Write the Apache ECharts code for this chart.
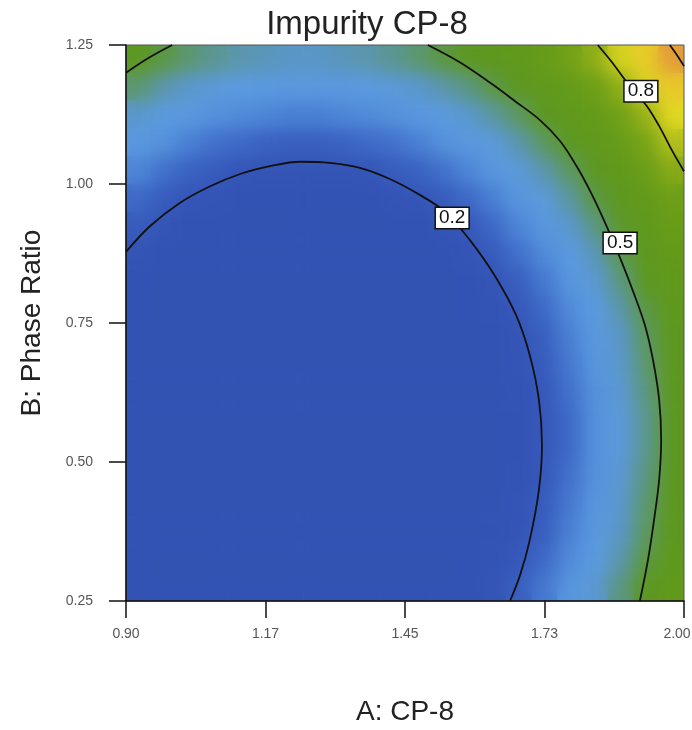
<!DOCTYPE html>
<html>
<head>
<meta charset="utf-8">
<title>Impurity CP-8</title>
<script src="https://cdn.jsdelivr.net/npm/echarts@6/dist/echarts.min.js"></script>
<style>
  html, body { margin: 0; padding: 0; background: #fff; }
  #wrap { position: relative; width: 692px; height: 730px; }
  #heat { position: absolute; left: 126px; top: 45px; width: 558px; height: 556px; overflow: hidden; }
  #heatBase, #heatSoft { position: absolute; left: 0; top: 0; width: 558px; height: 556px; }
  #heatSoft { filter: blur(9px); }
  #main { position: absolute; left: 0; top: 0; width: 692px; height: 730px; }
</style>
</head>
<body>
<div id="wrap">
  <div id="heat">
    <div id="heatBase"></div>
    <div id="heatSoft"></div>
  </div>
  <div id="main"></div>
</div>
<script>
// cell centres of the response grid (A: CP-8, B: Phase Ratio)
var aCenters = [0.925, 0.975, 1.025, 1.075, 1.125, 1.175, 1.225, 1.275, 1.325, 1.375, 1.425,
                1.475, 1.525, 1.575, 1.625, 1.675, 1.725, 1.775, 1.825, 1.875, 1.925, 1.975];
var bCenters = [0.275, 0.325, 0.375, 0.425, 0.475, 0.525, 0.575, 0.625, 0.675, 0.725,
                0.775, 0.825, 0.875, 0.925, 0.975, 1.025, 1.075, 1.125, 1.175, 1.225];

// impurity level, one row per B value (bottom to top)
var impurityRows = [
  [0.16,0.13,0.11,0.09,0.08,0.07,0.07,0.07,0.07,0.08,0.09,0.11,0.13,0.16,0.19,0.23,0.27,0.32,0.38,0.45,0.52,0.60],
  [0.14,0.11,0.09,0.07,0.06,0.05,0.05,0.05,0.05,0.06,0.07,0.09,0.11,0.14,0.17,0.21,0.25,0.30,0.36,0.42,0.49,0.58],
  [0.12,0.10,0.07,0.06,0.04,0.04,0.03,0.03,0.03,0.04,0.06,0.07,0.09,0.12,0.15,0.19,0.23,0.28,0.34,0.40,0.47,0.55],
  [0.11,0.08,0.06,0.04,0.03,0.02,0.02,0.02,0.02,0.03,0.04,0.06,0.08,0.11,0.14,0.18,0.22,0.27,0.32,0.39,0.46,0.54],
  [0.10,0.08,0.05,0.04,0.03,0.02,0.01,0.01,0.02,0.02,0.04,0.05,0.07,0.10,0.13,0.17,0.21,0.26,0.31,0.38,0.45,0.53],
  [0.10,0.07,0.05,0.03,0.02,0.01,0.01,0.01,0.01,0.02,0.03,0.05,0.07,0.10,0.13,0.16,0.21,0.25,0.31,0.37,0.44,0.52],
  [0.10,0.07,0.05,0.03,0.02,0.01,0.01,0.01,0.01,0.02,0.03,0.05,0.07,0.10,0.13,0.16,0.21,0.25,0.31,0.37,0.44,0.52],
  [0.10,0.08,0.05,0.04,0.03,0.02,0.01,0.01,0.02,0.02,0.04,0.05,0.07,0.10,0.13,0.17,0.21,0.26,0.31,0.38,0.45,0.53],
  [0.11,0.08,0.06,0.04,0.03,0.02,0.02,0.02,0.02,0.03,0.04,0.06,0.08,0.11,0.14,0.18,0.22,0.27,0.32,0.39,0.46,0.54],
  [0.12,0.10,0.07,0.06,0.04,0.04,0.03,0.03,0.03,0.04,0.06,0.07,0.09,0.12,0.15,0.19,0.23,0.28,0.34,0.40,0.47,0.55],
  [0.14,0.11,0.09,0.07,0.06,0.05,0.05,0.05,0.05,0.06,0.07,0.09,0.11,0.14,0.17,0.21,0.25,0.30,0.36,0.42,0.49,0.58],
  [0.16,0.13,0.11,0.09,0.08,0.07,0.07,0.07,0.07,0.08,0.09,0.11,0.13,0.16,0.19,0.23,0.27,0.32,0.38,0.45,0.52,0.60],
  [0.19,0.16,0.13,0.12,0.10,0.09,0.09,0.09,0.09,0.10,0.12,0.13,0.16,0.18,0.22,0.26,0.30,0.35,0.41,0.48,0.55,0.64],
  [0.22,0.19,0.16,0.15,0.13,0.12,0.12,0.12,0.12,0.13,0.14,0.16,0.19,0.21,0.25,0.29,0.33,0.39,0.45,0.51,0.59,0.68],
  [0.25,0.22,0.20,0.18,0.16,0.16,0.15,0.15,0.16,0.16,0.18,0.20,0.22,0.25,0.28,0.32,0.37,0.43,0.49,0.56,0.64,0.72],
  [0.29,0.26,0.24,0.22,0.20,0.19,0.19,0.19,0.19,0.20,0.22,0.24,0.26,0.29,0.33,0.37,0.42,0.47,0.54,0.61,0.69,0.78],
  [0.34,0.31,0.28,0.26,0.25,0.24,0.23,0.23,0.24,0.25,0.26,0.28,0.31,0.34,0.37,0.42,0.47,0.53,0.59,0.66,0.75,0.84],
  [0.39,0.36,0.34,0.31,0.30,0.29,0.28,0.28,0.29,0.30,0.31,0.33,0.36,0.39,0.43,0.47,0.53,0.59,0.65,0.73,0.81,0.91],
  [0.46,0.42,0.39,0.37,0.36,0.35,0.34,0.34,0.34,0.36,0.37,0.39,0.42,0.45,0.49,0.54,0.59,0.65,0.72,0.80,0.89,0.98],
  [0.52,0.49,0.46,0.44,0.42,0.41,0.40,0.40,0.41,0.42,0.44,0.46,0.49,0.52,0.56,0.61,0.66,0.73,0.80,0.88,0.97,1.07]
];

// contour lines, [A, B]
var contour02 = [[0.900,0.878],[0.947,0.924],[1.006,0.966],[1.066,0.996],[1.125,1.018],[1.184,1.032],
  [1.243,1.040],[1.302,1.038],[1.361,1.029],[1.420,1.009],[1.480,0.980],[1.529,0.950],[1.578,0.899],
  [1.627,0.835],[1.669,0.764],[1.696,0.692],[1.714,0.612],[1.720,0.531],[1.714,0.450],[1.696,0.360],
  [1.677,0.297],[1.657,0.250]];
var contour05Left = [[0.900,1.200],[0.945,1.227],[0.991,1.250]];
var contour05Right = [[1.495,1.250],[1.558,1.219],[1.618,1.182],[1.667,1.149],[1.716,1.115],[1.756,1.077],
  [1.789,1.031],[1.819,0.980],[1.848,0.923],[1.874,0.867],[1.900,0.806],[1.923,0.746],[1.939,0.683],
  [1.951,0.612],[1.955,0.540],[1.951,0.468],[1.941,0.396],[1.929,0.324],[1.913,0.250]];
var contour08 = [[1.830,1.250],[1.858,1.219],[1.884,1.187],[1.905,1.162],[1.927,1.140],[1.953,1.101],
  [1.976,1.061],[2.000,1.023]];
var contour11 = [[1.972,1.250],[1.986,1.232],[2.000,1.212]];

var contourLabels = ['0.2', '0.5', '0.8'];
var contourLabelPos = [[1.543, 0.939], [1.874, 0.894], [1.915, 1.167]];

var xTickValues = [0.90, 1.175, 1.45, 1.725, 2.00];
var xTickLabels = ['0.90', '1.17', '1.45', '1.73', '2.00'];

// colour ramp, evenly spread over 0 .. 1.2
var heatColors = ['#3353b3', '#3353b3', '#3353b3', '#3353b3', '#3353b4', '#3455b7', '#3a62c2',
  '#4a80d4', '#5896de', '#5b9ae0', '#5a96c6', '#5b9692', '#5c9750', '#5d9822', '#5e981e',
  '#60991c', '#639a1a', '#689d19', '#6e9f18', '#7ca516', '#90ae18', '#b2bf1c', '#d4d220',
  '#e6da22', '#e8d026', '#e8c02e', '#e6ac34', '#e2963c', '#de8242', '#da7444', '#d86c46'];

var FONT = 'Liberation Sans, Arial, sans-serif';

function heatData() {
  var out = [];
  impurityRows.forEach(function (row, j) {
    row.forEach(function (v, i) {
      out.push([i, j, v]);
    });
  });
  return out;
}

function initHeat(dom) {
  var chart = echarts.init(dom, null, { renderer: 'canvas' });
  chart.setOption({
    animation: false,
    grid: { left: 0, right: 0, top: 0, bottom: 0, outerBoundsMode: 'none' },
    xAxis: { type: 'category', data: aCenters, show: false },
    yAxis: { type: 'category', data: bCenters, show: false },
    visualMap: {
      type: 'continuous', show: false, min: 0, max: 1.2,
      inRange: { color: heatColors }
    },
    series: [{ type: 'heatmap', data: heatData(), itemStyle: { borderWidth: 0 } }]
  });
  return chart;
}

initHeat(document.getElementById('heatBase'));
initHeat(document.getElementById('heatSoft'));

function contourSeries(points) {
  return {
    type: 'line',
    data: points,
    smooth: 0.35,
    symbol: 'none',
    clip: true,
    lineStyle: { color: '#111', width: 1.8 },
    z: 3
  };
}

var main = echarts.init(document.getElementById('main'), null, { renderer: 'canvas' });
main.setOption({
  animation: false,
  backgroundColor: 'transparent',
  title: {
    text: 'Impurity CP-8',
    left: 362,
    top: 3,
    textAlign: 'center',
    textStyle: { fontFamily: FONT, fontSize: 33, fontWeight: 'normal', color: '#222' }
  },
  grid: {
    left: 126, top: 45, width: 558, height: 556, outerBoundsMode: 'none',
    show: true, borderColor: '#555', borderWidth: 1, backgroundColor: 'transparent'
  },
  xAxis: {
    type: 'value', min: 0.9, max: 2.0,
    name: 'A: CP-8', nameLocation: 'middle', nameGap: 97,
    nameTextStyle: { fontFamily: FONT, fontSize: 28, color: '#222' },
    axisLine: { show: true, lineStyle: { color: '#111', width: 1.5 } },
    axisTick: { show: true, inside: false, length: 17, customValues: xTickValues,
      lineStyle: { color: '#111', width: 1.5 } },
    axisLabel: {
      customValues: xTickValues, margin: 26,
      fontFamily: FONT, fontSize: 14, color: '#555',
      formatter: function (v) {
        var k = 0;
        xTickValues.forEach(function (t, i) { if (Math.abs(t - v) < 1e-6) k = i; });
        return k === xTickValues.length - 1 ? '{last|' + xTickLabels[k] + '}' : xTickLabels[k];
      },
      rich: {
        last: { fontFamily: FONT, fontSize: 14, color: '#555', padding: [0, 14, 0, 0] }
      }
    },
    splitLine: { show: false }
  },
  yAxis: {
    type: 'value', min: 0.25, max: 1.25, interval: 0.25,
    name: 'B: Phase Ratio', nameLocation: 'middle', nameGap: 80,
    nameTextStyle: { fontFamily: FONT, fontSize: 28, color: '#222' },
    axisLine: { show: true, lineStyle: { color: '#111', width: 1.5 } },
    axisTick: { show: true, inside: false, length: 17, lineStyle: { color: '#111', width: 1.5 } },
    axisLabel: {
      margin: 33, fontFamily: FONT, fontSize: 14, color: '#555',
      formatter: function (v) { return v.toFixed(2); }
    },
    splitLine: { show: false }
  },
  series: [
    contourSeries(contour02),
    contourSeries(contour05Left),
    contourSeries(contour05Right),
    contourSeries(contour08),
    contourSeries(contour11),
    {
      type: 'scatter',
      symbol: 'rect',
      symbolSize: 1,
      itemStyle: { color: 'rgba(0,0,0,0)', opacity: 1 },
      z: 5,
      data: contourLabelPos.map(function (p, i) {
        return { value: p, name: contourLabels[i] };
      }),
      label: {
        show: true, position: 'inside', formatter: '{b}',
        fontFamily: FONT, fontSize: 19, color: '#111',
        backgroundColor: '#fff', borderColor: '#111', borderWidth: 1.5,
        padding: [1, 3, 0, 3]
      }
    }
  ]
});
</script>
</body>
</html>
